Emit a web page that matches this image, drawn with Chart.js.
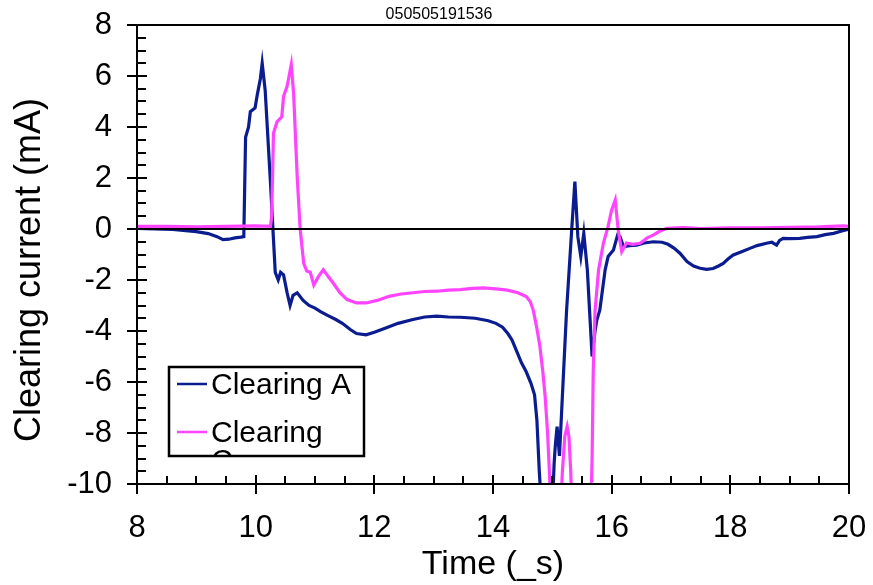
<!DOCTYPE html>
<html><head><meta charset="utf-8">
<script src="https://cdn.jsdelivr.net/npm/chart.js@4/dist/chart.umd.min.js"></script>
<style>html,body{margin:0;padding:0;background:#fff}#wrap{width:873px;height:585px;position:relative}</style>
</head><body><div id="wrap"><canvas id="c"></canvas></div>
<script>
const chartTitle = "050505191536";
const xAxisTitle = "Time (_s)";
const yAxisTitle = "Clearing current (mA)";
const seriesNames = ["Clearing A", "Clearing C"];
const legendRows = [["Clearing A"], ["Clearing", "C"]];
const seriesColors = ["#0A1C8F", "#FF44FF"];
const xTickLabels = [8, 10, 12, 14, 16, 18, 20];
const yTickLabels = [-10, -8, -6, -4, -2, 0, 2, 4, 6, 8];

const timeA = [8.00, 8.30, 8.60, 9.00, 9.20, 9.35, 9.45, 9.55, 9.65, 9.75, 9.80, 9.83, 9.88, 9.91, 9.99, 10.03, 10.08, 10.11, 10.16, 10.25, 10.30, 10.33, 10.38, 10.42, 10.47, 10.53, 10.58, 10.63, 10.70, 10.80, 10.90, 11.00, 11.10, 11.22, 11.35, 11.46, 11.60, 11.70, 11.86, 12.00, 12.17, 12.40, 12.65, 12.85, 13.05, 13.25, 13.45, 13.70, 13.92, 14.05, 14.16, 14.25, 14.32, 14.40, 14.48, 14.56, 14.64, 14.70, 14.74, 14.78, 14.82, 15.00, 15.03, 15.05, 15.08, 15.12, 15.16, 15.24, 15.30, 15.33, 15.38, 15.43, 15.48, 15.53, 15.59, 15.63, 15.67, 15.72, 15.75, 15.80, 15.89, 15.94, 16.03, 16.10, 16.14, 16.20, 16.30, 16.42, 16.55, 16.70, 16.85, 16.95, 17.05, 17.15, 17.27, 17.38, 17.49, 17.60, 17.71, 17.80, 17.88, 17.96, 18.05, 18.20, 18.33, 18.45, 18.61, 18.70, 18.78, 18.83, 18.89, 19.00, 19.17, 19.30, 19.46, 19.60, 19.74, 19.88, 20.00];
const currentA = [0.02, 0.00, -0.02, -0.10, -0.18, -0.30, -0.42, -0.40, -0.35, -0.32, -0.30, 3.60, 4.00, 4.60, 4.75, 5.30, 5.90, 6.50, 5.45, 1.80, -0.40, -1.70, -2.00, -1.70, -1.80, -2.50, -3.00, -2.60, -2.50, -2.80, -3.00, -3.10, -3.25, -3.40, -3.55, -3.70, -3.95, -4.10, -4.15, -4.05, -3.90, -3.70, -3.55, -3.45, -3.42, -3.45, -3.46, -3.50, -3.60, -3.70, -3.85, -4.10, -4.35, -4.80, -5.25, -5.60, -6.05, -6.50, -7.50, -9.50, -11.0, -11.0, -9.20, -8.50, -7.75, -8.90, -7.00, -3.20, -1.00, 0.10, 1.86, -0.30, -1.08, -0.17, -1.60, -3.30, -5.00, -4.00, -3.57, -3.18, -1.60, -1.08, -0.82, -0.24, -0.30, -0.69, -0.65, -0.63, -0.55, -0.50, -0.52, -0.60, -0.75, -0.95, -1.28, -1.45, -1.54, -1.58, -1.55, -1.45, -1.35, -1.18, -1.02, -0.88, -0.76, -0.65, -0.56, -0.52, -0.63, -0.45, -0.37, -0.38, -0.37, -0.33, -0.30, -0.22, -0.17, -0.08, 0.00];

const timeC = [8.00, 8.50, 9.00, 9.50, 10.00, 10.25, 10.27, 10.30, 10.36, 10.44, 10.47, 10.53, 10.60, 10.64, 10.70, 10.75, 10.81, 10.86, 10.92, 10.98, 11.05, 11.14, 11.22, 11.30, 11.42, 11.54, 11.70, 11.86, 12.05, 12.25, 12.45, 12.65, 12.85, 13.05, 13.25, 13.45, 13.65, 13.84, 14.05, 14.24, 14.42, 14.56, 14.63, 14.68, 14.74, 14.79, 14.84, 14.88, 14.92, 14.96, 14.98, 15.14, 15.17, 15.21, 15.25, 15.28, 15.31, 15.33, 15.65, 15.67, 15.69, 15.72, 15.78, 15.86, 15.94, 16.00, 16.06, 16.11, 16.17, 16.25, 16.35, 16.48, 16.60, 16.70, 16.80, 16.93, 17.20, 17.50, 18.00, 18.50, 19.00, 19.50, 19.90, 20.00];
const currentC = [0.10, 0.10, 0.08, 0.10, 0.12, 0.10, 0.50, 3.75, 4.20, 4.40, 5.20, 5.60, 6.45, 5.30, 2.05, 0.00, -1.35, -1.65, -1.70, -2.20, -1.90, -1.60, -1.85, -2.10, -2.50, -2.77, -2.90, -2.90, -2.80, -2.64, -2.55, -2.50, -2.45, -2.44, -2.40, -2.38, -2.33, -2.31, -2.35, -2.40, -2.50, -2.65, -2.85, -3.20, -3.90, -4.60, -5.60, -6.60, -8.00, -10.0, -11.0, -11.0, -9.50, -8.14, -7.75, -8.14, -9.50, -11.0, -11.0, -9.00, -5.50, -3.20, -1.60, -0.56, 0.10, 0.75, 1.14, -0.04, -0.89, -0.55, -0.60, -0.56, -0.35, -0.24, -0.10, 0.03, 0.05, 0.02, 0.05, 0.05, 0.06, 0.08, 0.12, 0.10];

const FONT = '"Liberation Sans", Arial, Helvetica, sans-serif';
const toPoints = (xs, ys) => xs.map((x, i) => ({x: x, y: ys[i]}));

const framePlugin = {
  id: 'frame',
  afterDatasetsDraw(chart) {
    const {ctx, chartArea: a, scales: {x, y}} = chart;
    ctx.save();
    ctx.strokeStyle = '#000';
    ctx.lineWidth = 2;
    const y0 = y.getPixelForValue(0);
    ctx.beginPath(); ctx.moveTo(a.left, y0); ctx.lineTo(a.right, y0); ctx.stroke();
    ctx.strokeRect(a.left, a.top, a.right - a.left, a.bottom - a.top);
    for (let v = y.min; v <= y.max + 1e-9; v += 0.5) {
      const py = Math.round(y.getPixelForValue(v));
      const major = Math.abs(v / 2 - Math.round(v / 2)) < 1e-9;
      ctx.beginPath();
      ctx.moveTo(a.left - (major ? 10 : 0), py);
      ctx.lineTo(a.left + (major ? 10 : 9), py);
      ctx.stroke();
    }
    for (let v = x.min; v <= x.max + 1e-9; v += 0.5) {
      const px = Math.round(x.getPixelForValue(v));
      const major = Math.abs(v / 2 - Math.round(v / 2)) < 1e-9;
      ctx.beginPath();
      ctx.moveTo(px, a.bottom + (major ? 10 : 0));
      ctx.lineTo(px, a.bottom - (major ? 9 : 8));
      ctx.stroke();
    }
    ctx.restore();
  },
  afterDraw(chart) {
    const {ctx, data} = chart;
    ctx.save();
    ctx.fillStyle = '#000';
    ctx.font = '16px ' + FONT;
    ctx.textAlign = 'center';
    ctx.textBaseline = 'alphabetic';
    ctx.fillText(chartTitle, 439, 19);
    ctx.save();
    ctx.translate(30, 270);
    ctx.rotate(-Math.PI / 2);
    ctx.font = '36px ' + FONT;
    ctx.textAlign = 'center';
    ctx.textBaseline = 'middle';
    ctx.fillText(yAxisTitle, 0, 0);
    ctx.restore();
    const bx = 169, by = 367, bw = 195, bh = 89;
    ctx.fillStyle = '#fff';
    ctx.fillRect(bx, by, bw, bh);
    ctx.save();
    ctx.beginPath(); ctx.rect(bx, by, bw, bh); ctx.clip();
    ctx.font = '30px ' + FONT;
    ctx.textAlign = 'left';
    ctx.textBaseline = 'alphabetic';
    const rows = [384, 432];
    data.datasets.forEach((ds, i) => {
      const ly = rows[i];
      ctx.strokeStyle = ds.borderColor;
      ctx.lineWidth = 2.5;
      ctx.beginPath(); ctx.moveTo(177, ly); ctx.lineTo(207, ly); ctx.stroke();
      ctx.fillStyle = '#000';
      legendRows[i].forEach((t, j) => ctx.fillText(t, 211, ly + 10 + j * 28));
    });
    ctx.restore();
    ctx.strokeStyle = '#000';
    ctx.lineWidth = 2.5;
    ctx.strokeRect(bx, by, bw, bh);
    ctx.restore();
  }
};

new Chart(document.getElementById('c'), {
  type: 'scatter',
  data: {
    datasets: [
      {label: seriesNames[0], data: toPoints(timeA, currentA), borderColor: seriesColors[0], backgroundColor: seriesColors[0], showLine: true, pointRadius: 0, borderWidth: 3.2, tension: 0, clip: 0, order: 2},
      {label: seriesNames[1], data: toPoints(timeC, currentC), borderColor: seriesColors[1], backgroundColor: seriesColors[1], showLine: true, pointRadius: 0, borderWidth: 3.2, tension: 0, clip: 0, order: 1}
    ]
  },
  options: {
    responsive: true,
    maintainAspectRatio: false,
    animation: false,
    events: [],
    layout: {padding: {top: 25, right: 24, left: 0, bottom: 0}},
    plugins: {legend: {display: false}, tooltip: {enabled: false}, title: {display: false}},
    scales: {
      x: {
        type: 'linear', min: 8, max: 20,
        grid: {display: false, drawTicks: false},
        border: {display: false},
        ticks: {stepSize: 2, padding: 26, color: '#000', font: {family: FONT, size: 31},
          callback: v => xTickLabels.includes(v) ? String(v) : ''},
        title: {display: true, text: xAxisTitle, color: '#000', font: {family: FONT, size: 34}, padding: {top: 0, bottom: 0}},
        afterFit: s => { s.height = 101; s.paddingLeft = 0; s.paddingRight = 0; }
      },
      y: {
        type: 'linear', min: -10, max: 8,
        grid: {display: false, drawTicks: false},
        border: {display: false},
        ticks: {stepSize: 2, padding: 25, color: '#000', font: {family: FONT, size: 31},
          callback: v => yTickLabels.includes(v) ? String(v) : ''},
        afterFit: s => { s.width = 137; s.paddingTop = 0; s.paddingBottom = 0; }
      }
    }
  },
  plugins: [framePlugin]
});
</script>
</body></html>
